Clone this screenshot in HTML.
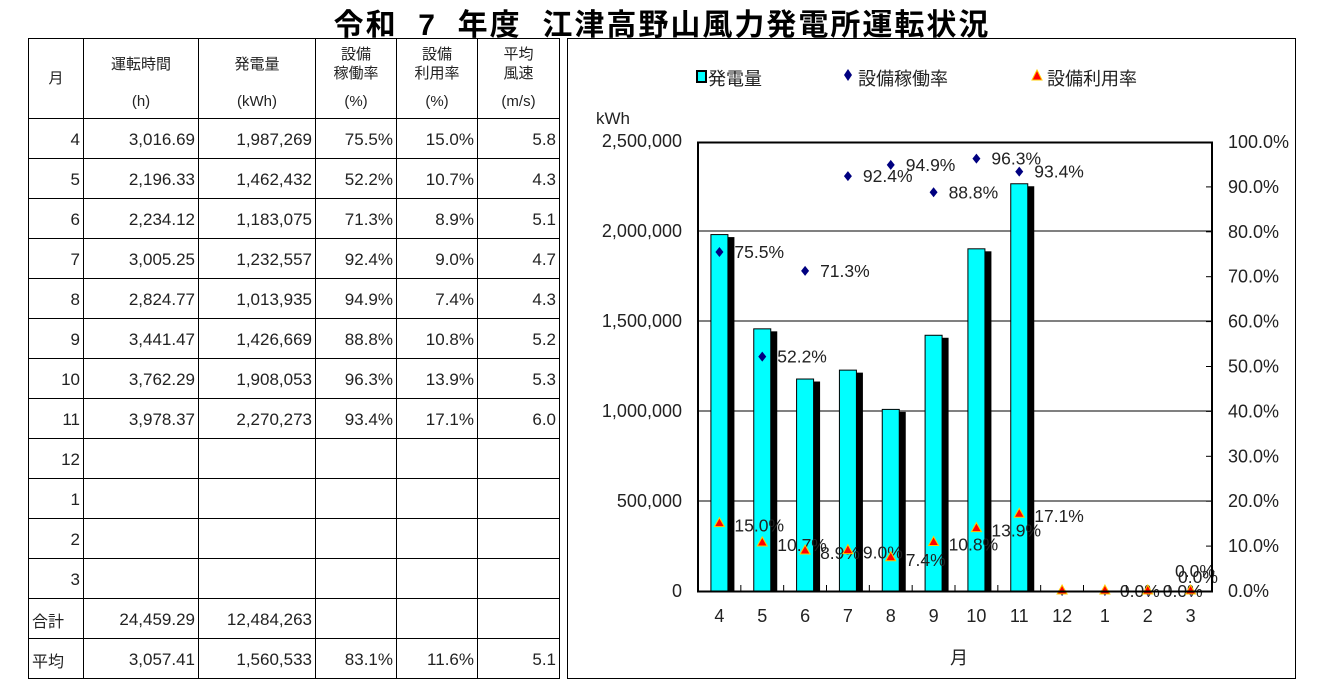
<!DOCTYPE html>
<html><head><meta charset="utf-8">
<style>
body{margin:0;width:1324px;height:691px;background:#fff;position:relative;overflow:hidden;font-family:"Liberation Sans","Noto Sans CJK JP",sans-serif;}
.title{position:absolute;left:0;width:1324px;top:0px;text-align:center;font-size:30px;font-weight:bold;letter-spacing:2px;}
table{position:absolute;left:28px;top:38px;border-collapse:collapse;font-size:17px;color:#222;}
td{border:1px solid #000;height:40px;padding:3px 3px 0 3px;text-align:right;box-sizing:border-box;}
td.h{text-align:center;vertical-align:top;font-size:15px;line-height:19px;padding-top:0;}
</style></head><body>
<div class="title">令和&nbsp;&nbsp;7&nbsp;&nbsp;年度&nbsp;&nbsp;江津高野山風力発電所運転状況</div>
<table>
<colgroup><col style="width:55px"><col style="width:115px"><col style="width:117px"><col style="width:81px"><col style="width:81px"><col style="width:82px"></colgroup>
<tr><td class="h" style="height:80px;vertical-align:middle">月</td>
<td class="h"><div style="margin-top:16px">運転時間</div><div style="margin-top:18px">(h)</div></td>
<td class="h"><div style="margin-top:16px">発電量</div><div style="margin-top:18px">(kWh)</div></td>
<td class="h"><div style="margin-top:6px">設備<br>稼働率</div><div style="margin-top:9px">(%)</div></td>
<td class="h"><div style="margin-top:6px">設備<br>利用率</div><div style="margin-top:9px">(%)</div></td>
<td class="h"><div style="margin-top:6px">平均<br>風速</div><div style="margin-top:9px">(m/s)</div></td></tr>
<tr><td>4</td><td>3,016.69</td><td>1,987,269</td><td>75.5%</td><td>15.0%</td><td>5.8</td></tr>
<tr><td>5</td><td>2,196.33</td><td>1,462,432</td><td>52.2%</td><td>10.7%</td><td>4.3</td></tr>
<tr><td>6</td><td>2,234.12</td><td>1,183,075</td><td>71.3%</td><td>8.9%</td><td>5.1</td></tr>
<tr><td>7</td><td>3,005.25</td><td>1,232,557</td><td>92.4%</td><td>9.0%</td><td>4.7</td></tr>
<tr><td>8</td><td>2,824.77</td><td>1,013,935</td><td>94.9%</td><td>7.4%</td><td>4.3</td></tr>
<tr><td>9</td><td>3,441.47</td><td>1,426,669</td><td>88.8%</td><td>10.8%</td><td>5.2</td></tr>
<tr><td>10</td><td>3,762.29</td><td>1,908,053</td><td>96.3%</td><td>13.9%</td><td>5.3</td></tr>
<tr><td>11</td><td>3,978.37</td><td>2,270,273</td><td>93.4%</td><td>17.1%</td><td>6.0</td></tr>
<tr><td>12</td><td></td><td></td><td></td><td></td><td></td></tr>
<tr><td>1</td><td></td><td></td><td></td><td></td><td></td></tr>
<tr><td>2</td><td></td><td></td><td></td><td></td><td></td></tr>
<tr><td>3</td><td></td><td></td><td></td><td></td><td></td></tr>
<tr><td style="text-align:left;font-size:16px">合計</td><td>24,459.29</td><td>12,484,263</td><td></td><td></td><td></td></tr>
<tr><td style="text-align:left;font-size:16px">平均</td><td>3,057.41</td><td>1,560,533</td><td>83.1%</td><td>11.6%</td><td>5.1</td></tr>
</table>
<svg id="c" width="1324" height="691" style="position:absolute;left:0;top:0" font-family="Liberation Sans, Noto Sans CJK JP, sans-serif"></svg>
<script>
var s='';
s+='<rect x="567.5" y="38.5" width="728" height="640" fill="none" stroke="#000"/>';
var L=698,R=1212,T=142,B=591,H=B-T,cw=(R-L)/12;
for(var i=1;i<5;i++){var y=B-i*90;s+='<line x1="'+L+'" x2="'+R+'" y1="'+y+'" y2="'+y+'" stroke="#000"/>';}
var lab=['0','500,000','1,000,000','1,500,000','2,000,000','2,500,000'];
for(i=0;i<6;i++){var y=B-i*90;s+='<text x="682" y="'+(y+6)+'" text-anchor="end" font-size="18" fill="#222">'+lab[i]+'</text>';}
for(i=0;i<=10;i++){var y=B-i*44.9;s+='<line x1="'+(R-6)+'" x2="'+R+'" y1="'+y+'" y2="'+y+'" stroke="#000"/>';s+='<text x="1228" y="'+(y+6)+'" font-size="18" fill="#222">'+(i*10)+'.0%</text>';}
s+='<text x="596" y="124" font-size="17" fill="#222">kWh</text>';
var m=['4','5','6','7','8','9','10','11','12','1','2','3'];
var kw=[1987269,1462432,1183075,1232557,1013935,1426669,1908053,2270273,0,0,0,0];
var op=[75.5,52.2,71.3,92.4,94.9,88.8,96.3,93.4];
var ut=[15.0,10.7,8.9,9.0,7.4,10.8,13.9,17.1,0,0,0,0];
for(i=0;i<12;i++){
 var cx=L+cw*(i+0.5);
 s+='<line x1="'+(L+cw*(i+1))+'" x2="'+(L+cw*(i+1))+'" y1="'+B+'" y2="'+(B-6)+'" stroke="#000"/>';
 s+='<text x="'+cx+'" y="622" text-anchor="middle" font-size="18" fill="#222">'+m[i]+'</text>';
 if(kw[i]>0){var y=B-kw[i]/2500000*H;
  s+='<rect x="'+(cx-3)+'" y="'+(y+3)+'" width="18" height="'+(B-y-3)+'" fill="#000"/>';
  s+='<rect x="'+(cx-8.5)+'" y="'+(y+0.5)+'" width="17" height="'+(B-y)+'" fill="#00ffff" stroke="#000"/>';}
}
for(i=0;i<12;i++){var cx=L+cw*(i+0.5);
 if(i<8){var y=B-op[i]/100*H;
  s+='<path d="M'+cx+' '+(y-5)+'L'+(cx+4)+' '+y+'L'+cx+' '+(y+5)+'L'+(cx-4)+' '+y+'Z" fill="#000080"/>';
  s+='<text x="'+(cx+15)+'" y="'+(y+6)+'" font-size="17.5" fill="#222">'+op[i].toFixed(1)+'%</text>';}
 else{s+='<path d="M'+cx+' '+(B-5)+'L'+(cx+4)+' '+B+'L'+cx+' '+(B+5)+'L'+(cx-4)+' '+B+'Z" fill="#000080"/>';}
 var y=B-ut[i]/100*H;
 s+='<path d="M'+cx+' '+(y-6)+'L'+(cx+5)+' '+(y+3)+'L'+(cx-5)+' '+(y+3)+'Z" fill="#ff0000" stroke="#ffcc00"/>';
 if(i!=8 && i!=11) s+='<text x="'+(cx+15)+'" y="'+(y+(i<8?8:6))+'" font-size="17.5" fill="#222">'+ut[i].toFixed(1)+'%</text>';
}
s+='<text x="1175" y="577" font-size="17.5" fill="#222">0.0%</text><text x="1178" y="583" font-size="17.5" fill="#222">0.0%</text>';
s+='<rect x="'+L+'" y="'+(T+0.5)+'" width="'+(R-L)+'" height="'+(B-T)+'" fill="none" stroke="#000" stroke-width="2"/>';
s+='<text x="959" y="664" text-anchor="middle" font-size="18" fill="#222">月</text>';
s+='<rect x="697" y="71" width="9" height="11" fill="#00ffff" stroke="#000" stroke-width="2"/>';
s+='<text x="708" y="85" font-size="18" fill="#222">発電量</text>';
s+='<path d="M848 69L852 75L848 81L844 75Z" fill="#000080"/><text x="858" y="85" font-size="18" fill="#222">設備稼働率</text>';
s+='<path d="M1037 70L1042 80L1032 80Z" fill="#ff0000" stroke="#ffcc00"/><text x="1047" y="85" font-size="18" fill="#222">設備利用率</text>';
document.getElementById('c').innerHTML=s;
</script>
</body></html>
